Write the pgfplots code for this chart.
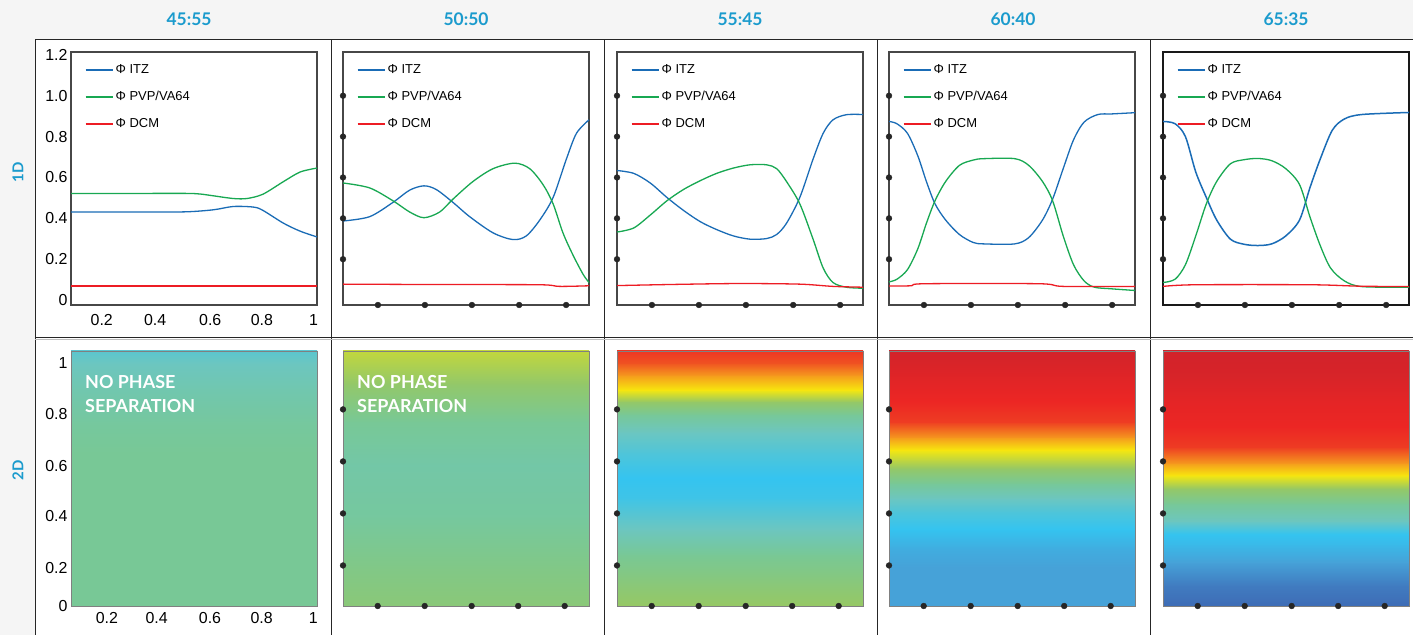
\documentclass[border=0pt]{standalone}
\usepackage{fontspec}
\setmainfont{Liberation Sans}
\newfontfamily\headfont{Lato}
\usepackage{pgfplots}
\pgfplotsset{compat=1.18}
\definecolor{cblue}{RGB}{26,108,182}
\definecolor{cgreen}{RGB}{24,168,82}
\definecolor{cred}{RGB}{237,28,36}
\definecolor{bggray}{RGB}{245,245,245}
\definecolor{headblue}{RGB}{27,155,205}
% colour stops of the phase map
\definecolor{c0}{RGB}{62,108,182}
\definecolor{c1}{RGB}{70,162,216}
\definecolor{c2}{RGB}{52,196,240}
\definecolor{c3}{RGB}{108,198,192}
\definecolor{c4}{RGB}{120,200,150}
\definecolor{c5}{RGB}{150,200,100}
\definecolor{c6}{RGB}{247,232,14}
\definecolor{c7}{RGB}{245,150,30}
\definecolor{c8}{RGB}{236,38,36}
\definecolor{c9}{RGB}{210,35,42}
\pgfplotsset{
  topax/.style={scale only axis, anchor=south west, width=246bp, height=253bp,
    xmin=0, xmax=1, ymin=-0.024, ymax=1.214, major tick length=0pt,
    axis line style={draw=black!72, line width=1.3bp}, clip=false,
    tick label style={font=\fontsize{16}{16}\selectfont},
    xticklabel style={yshift=-6bp},
    legend cell align=left,
    legend style={draw=none, fill=none, at={(0.055,0.9555)}, anchor=north west, inner sep=0pt,
      row sep=13.2bp, font=\fontsize{13}{13}\selectfont,
      nodes={inner sep=1.5bp}},
    legend image code/.code={\draw[##1,line width=1.9bp] (0bp,0bp) -- (27.5bp,0bp);}},
  botax/.style={scale only axis, anchor=south west, width=246bp, height=255bp,
    xmin=0, xmax=1, ymin=0, ymax=1, major tick length=0pt,
    axis line style={draw=black!50, line width=0.7bp}, clip=false, axis on top,
    tick label style={font=\fontsize{16}{16}\selectfont},
    xticklabel style={yshift=-3bp}},
  dotsx/.style={xtick=\empty, ytick=\empty},
}
\newcommand{\topdots}{\addplot[only marks, mark=*, mark size=2.9bp, black!85, forget plot] coordinates {(0.142,-0.024) (0.333,-0.024) (0.524,-0.024) (0.716,-0.024) (0.907,-0.024) (0,0.2) (0,0.4) (0,0.6) (0,0.8) (0,1.0)};}
\newcommand{\botdots}{\addplot[only marks, mark=*, mark size=2.9bp, black!85, forget plot] coordinates {(0.141,0) (0.332,0) (0.523,0) (0.712,0) (0.901,0) (0,0.159) (0,0.363) (0,0.567) (0,0.771)};}
\newcommand{\nps}{\node[anchor=north west, align=left, text=white, inner sep=0pt, font=\headfont\bfseries\fontsize{18}{24}\selectfont] at (rel axis cs:0.057,0.905) {NO PHASE\\SEPARATION};}
% one band of the 2D map: from y=#1 (colour #3) to y=#2 (colour #4)
\newcommand{\band}[4]{\addplot[draw=none, bottom color=#3, top color=#4, forget plot] coordinates {(0,#1) (1,#1) (1,#2) (0,#2)};}
\begin{document}
\begin{tikzpicture}[x=1bp,y=1bp]
\useasboundingbox (0,0) rectangle (1413,635);
\fill[white] (0,0) rectangle (1413,635);
\fill[bggray] (0,595) rectangle (1413,635);
\fill[bggray] (0,0) rectangle (35,635);
% grid
\draw[black!85, line width=1bp] (35,595) -- (1413,595);
\draw[black!85, line width=1bp] (35,0) -- (35,595);
\foreach \xx in {331,604,877,1150} {\draw[black!85, line width=1bp] (\xx,0) -- (\xx,595);}
\draw[black!85, line width=1bp] (35,297) -- (1413,297);
\draw[black!25, line width=1bp] (35,295) -- (1413,295);
% headers
\foreach \xx/\tt in {189/45:55, 466/50:50, 740/55:45, 1013/60:40, 1286/65:35}
  {\node[text=headblue, font=\headfont\bfseries\fontsize{17.5}{17.5}\selectfont] at (\xx,616) {\tt};}
\node[rotate=90, text=headblue, font=\headfont\bfseries\fontsize{15}{15}\selectfont] at (18,463) {1D};
\node[rotate=90, text=headblue, font=\headfont\bfseries\fontsize{15}{15}\selectfont] at (18,165) {2D};

% ---------------- 1D row ----------------
\begin{axis}[topax, at={(71bp,330bp)},
  xtick={0.125,0.342,0.566,0.776,0.986}, xticklabels={0.2,0.4,0.6,0.8,1},
  ytick={0,0.2,0.4,0.6,0.8,1.0,1.2}, yticklabels={0,0.2,0.4,0.6,0.8,1.0,1.2}]
\addplot[draw=cblue, line width=1.3bp, smooth] coordinates {(0,0.431) (0.3,0.431) (0.47,0.432) (0.58,0.442) (0.66,0.458) (0.742,0.455) (0.78,0.439) (0.864,0.376) (0.932,0.337) (1,0.309)};
\addlegendentry{Φ ITZ}
\addplot[draw=cgreen, line width=1.3bp, smooth] coordinates {(0,0.522) (0.3,0.522) (0.47,0.522) (0.525,0.519) (0.58,0.51) (0.66,0.497) (0.715,0.497) (0.78,0.518) (0.864,0.58) (0.932,0.627) (1,0.646)};
\addlegendentry{Φ PVP/VA64}
\addplot[draw=cred, line width=1.5bp] coordinates {(0,0.069) (0.5,0.069) (1,0.069)};
\addlegendentry{Φ DCM}
\end{axis}

\begin{axis}[topax, dotsx, at={(343bp,330bp)}]
\addplot[draw=cblue, line width=1.3bp, smooth] coordinates {(0,0.387) (0.108,0.408) (0.203,0.478) (0.271,0.538) (0.329,0.559) (0.379,0.541) (0.447,0.478) (0.515,0.408) (0.61,0.329) (0.691,0.296) (0.745,0.314) (0.8,0.392) (0.854,0.502) (0.908,0.69) (0.949,0.816) (1,0.882)};
\addlegendentry{Φ ITZ}
\addplot[draw=cgreen, line width=1.3bp, smooth] coordinates {(0,0.573) (0.108,0.549) (0.203,0.486) (0.271,0.431) (0.329,0.403) (0.393,0.431) (0.447,0.494) (0.528,0.58) (0.61,0.643) (0.698,0.67) (0.759,0.643) (0.813,0.565) (0.854,0.471) (0.894,0.329) (0.935,0.22) (0.976,0.126) (1,0.086)};
\addlegendentry{Φ PVP/VA64}
\addplot[draw=cred, line width=1.3bp, smooth] coordinates {(0,0.078) (0.4,0.076) (0.8,0.075) (0.88,0.067) (1,0.07)};
\addlegendentry{Φ DCM}
\topdots
\end{axis}

\begin{axis}[topax, dotsx, at={(617bp,330bp)}]
\addplot[draw=cblue, line width=1.3bp, smooth] coordinates {(0,0.634) (0.068,0.62) (0.135,0.573) (0.203,0.502) (0.27,0.439) (0.338,0.384) (0.405,0.345) (0.473,0.314) (0.541,0.298) (0.608,0.301) (0.649,0.321) (0.689,0.376) (0.743,0.502) (0.797,0.69) (0.838,0.816) (0.878,0.882) (0.932,0.907) (1,0.908)};
\addlegendentry{Φ ITZ}
\addplot[draw=cgreen, line width=1.3bp, smooth] coordinates {(0,0.333) (0.068,0.353) (0.135,0.416) (0.203,0.486) (0.27,0.541) (0.338,0.584) (0.405,0.62) (0.473,0.646) (0.541,0.662) (0.608,0.662) (0.649,0.643) (0.689,0.58) (0.743,0.471) (0.797,0.298) (0.838,0.157) (0.878,0.086) (0.932,0.063) (1,0.058)};
\addlegendentry{Φ PVP/VA64}
\addplot[draw=cred, line width=1.3bp, smooth] coordinates {(0,0.071) (0.25,0.077) (0.5,0.081) (0.743,0.078) (0.878,0.067) (1,0.063)};
\addlegendentry{Φ DCM}
\topdots
\end{axis}

\begin{axis}[topax, dotsx, at={(889bp,330bp)}]
\addplot[draw=cblue, line width=1.3bp, smooth] coordinates {(0,0.874) (0.032,0.863) (0.075,0.816) (0.117,0.706) (0.152,0.58) (0.187,0.471) (0.23,0.392) (0.286,0.321) (0.342,0.282) (0.385,0.275) (0.511,0.275) (0.568,0.306) (0.624,0.392) (0.665,0.494) (0.708,0.643) (0.75,0.784) (0.793,0.871) (0.849,0.908) (0.906,0.911) (1,0.917)};
\addlegendentry{Φ ITZ}
\addplot[draw=cgreen, line width=1.3bp, smooth] coordinates {(0,0.089) (0.032,0.102) (0.075,0.149) (0.117,0.251) (0.152,0.376) (0.187,0.486) (0.23,0.58) (0.286,0.659) (0.342,0.685) (0.385,0.692) (0.511,0.692) (0.568,0.659) (0.624,0.58) (0.665,0.486) (0.708,0.314) (0.75,0.173) (0.793,0.094) (0.835,0.063) (0.906,0.055) (1,0.047)};
\addlegendentry{Φ PVP/VA64}
\addplot[draw=cred, line width=1.3bp, smooth] coordinates {(0,0.069) (0.089,0.070) (0.145,0.080) (0.61,0.080) (0.708,0.067) (1,0.067)};
\addlegendentry{Φ DCM}
\topdots
\end{axis}

\begin{axis}[topax, dotsx, at={(1163bp,330bp)}, axis line style={draw=black!90, line width=2.2bp}]
\addplot[draw=cblue, line width=1.5bp, smooth] coordinates {(0,0.874) (0.049,0.863) (0.091,0.8) (0.133,0.627) (0.176,0.502) (0.218,0.392) (0.274,0.298) (0.33,0.273) (0.386,0.267) (0.442,0.275) (0.499,0.314) (0.555,0.392) (0.597,0.549) (0.639,0.69) (0.688,0.831) (0.737,0.886) (0.808,0.908) (1,0.918)};
\addlegendentry{Φ ITZ}
\addplot[draw=cgreen, line width=1.3bp, smooth] coordinates {(0,0.086) (0.049,0.102) (0.091,0.173) (0.133,0.314) (0.176,0.471) (0.218,0.58) (0.274,0.667) (0.33,0.687) (0.386,0.693) (0.442,0.682) (0.499,0.643) (0.555,0.565) (0.597,0.408) (0.639,0.267) (0.681,0.157) (0.737,0.094) (0.808,0.066) (1,0.063)};
\addlegendentry{Φ PVP/VA64}
\addplot[draw=cred, line width=1.3bp, smooth] coordinates {(0,0.067) (0.133,0.075) (0.6,0.075) (0.8,0.068) (1,0.066)};
\addlegendentry{Φ DCM}
\topdots
\end{axis}

% ---------------- 2D row ----------------
\begin{axis}[botax, at={(71bp,29bp)},
  xtick={0.146,0.348,0.565,0.775,0.985}, xticklabels={0.2,0.4,0.6,0.8,1},
  ytick={0,0.15,0.353,0.55,0.752,0.954}, yticklabels={0,0.2,0.4,0.6,0.8,1}]
\band{0}{0.604}{c4}{c4}
\band{0.6}{0.724}{c4}{c4!80!c3}
\band{0.72}{0.854}{c4!80!c3}{c4!40!c3}
\band{0.85}{0.954}{c4!40!c3}{c3}
\band{0.95}{1}{c3}{c3!70!c2}
\nps
\end{axis}

\begin{axis}[botax, dotsx, at={(343bp,29bp)}]
\band{0}{0.154}{c5!60!c4}{c5!30!c4}
\band{0.15}{0.354}{c5!30!c4}{c4!80!c3}
\band{0.35}{0.554}{c4!80!c3}{c4!60!c3}
\band{0.55}{0.724}{c4!60!c3}{c4}
\band{0.72}{0.874}{c4}{c5!90!c4}
\band{0.87}{1}{c5!90!c4}{c6!45!c5}
\nps
\botdots
\end{axis}

\begin{axis}[botax, dotsx, at={(617bp,29bp)}]
\band{0}{0.104}{c5}{c5!50!c4}
\band{0.1}{0.204}{c5!50!c4}{c4}
\band{0.2}{0.304}{c4}{c3}
\band{0.3}{0.424}{c3}{c3!20!c2}
\band{0.42}{0.504}{c3!20!c2}{c2}
\band{0.5}{0.604}{c2}{c3!50!c2}
\band{0.6}{0.684}{c3!50!c2}{c3}
\band{0.68}{0.754}{c3}{c4}
\band{0.75}{0.804}{c4}{c5}
\band{0.8}{0.849}{c5}{c6}
\band{0.845}{0.909}{c6}{c7}
\band{0.905}{0.954}{c7}{c8!60!c7}
\band{0.95}{1}{c8!60!c7}{c8!85!c7}
\botdots
\end{axis}

\begin{axis}[botax, dotsx, at={(889bp,29bp)}]
\band{0}{0.154}{c1}{c1}
\band{0.15}{0.224}{c1}{c2!30!c1}
\band{0.22}{0.304}{c2!30!c1}{c2}
\band{0.3}{0.374}{c2}{c3!50!c2}
\band{0.37}{0.424}{c3!50!c2}{c3}
\band{0.42}{0.484}{c3}{c4}
\band{0.48}{0.544}{c4}{c5}
\band{0.54}{0.614}{c5}{c6}
\band{0.61}{0.664}{c6}{c7}
\band{0.66}{0.724}{c7}{c8!80!c7}
\band{0.72}{0.804}{c8!80!c7}{c8}
\band{0.8}{0.904}{c8}{c9!50!c8}
\band{0.9}{1}{c9!50!c8}{c9}
\botdots
\end{axis}

\begin{axis}[botax, dotsx, at={(1163bp,29bp)}]
\band{0}{0.084}{c0}{c1!30!c0}
\band{0.08}{0.174}{c1!30!c0}{c1}
\band{0.17}{0.244}{c1}{c2!70!c1}
\band{0.24}{0.284}{c2!70!c1}{c2}
\band{0.28}{0.334}{c2}{c3}
\band{0.33}{0.404}{c3}{c4}
\band{0.40}{0.464}{c4}{c5}
\band{0.46}{0.514}{c5}{c6}
\band{0.51}{0.564}{c6}{c7}
\band{0.56}{0.624}{c7}{c8!80!c7}
\band{0.62}{0.704}{c8!80!c7}{c8}
\band{0.7}{0.804}{c8}{c9!30!c8}
\band{0.8}{0.904}{c9!30!c8}{c9!80!c8}
\band{0.9}{1}{c9!80!c8}{c9}
\botdots
\end{axis}
\end{tikzpicture}
\end{document}
